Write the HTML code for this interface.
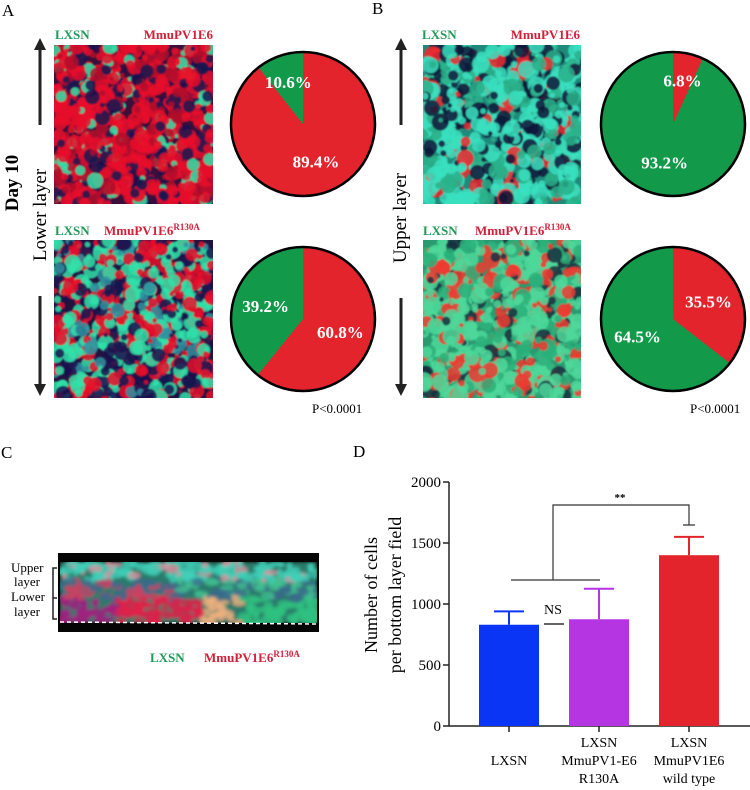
<!DOCTYPE html>
<html><head><meta charset="utf-8">
<style>
html,body{margin:0;padding:0;background:#fff;}
svg{display:block;font-family:"Liberation Serif",serif;}
</style></head>
<body>
<svg id="fig" width="750" height="790" viewBox="0 0 750 790" xmlns="http://www.w3.org/2000/svg">
<defs>
<filter id="blur1"><feGaussianBlur stdDeviation="0.8"/></filter>
<filter id="blur2"><feGaussianBlur stdDeviation="1.6"/></filter>
<marker id="ah" viewBox="0 0 10 10" refX="5" refY="5" markerWidth="4" markerHeight="4" orient="auto"><path d="M0,0 L10,5 L0,10 z" fill="#222"/></marker>
</defs>
<!-- panel letters -->
<text x="2" y="16" font-size="17">A</text>
<text x="372" y="14" font-size="17">B</text>
<text x="1" y="458" font-size="17">C</text>
<text x="353" y="457" font-size="17">D</text>

<!-- A side labels -->
<text transform="translate(18,183) rotate(-90)" text-anchor="middle" font-size="19" font-weight="bold">Day 10</text>
<text transform="translate(46,215) rotate(-90)" text-anchor="middle" font-size="19">Lower layer</text>
<line x1="40" y1="125" x2="40" y2="44" stroke="#222" stroke-width="3" marker-end="url(#ah)"/>
<line x1="40" y1="296" x2="40" y2="390" stroke="#222" stroke-width="3" marker-end="url(#ah)"/>
<text transform="translate(406,218) rotate(-90)" text-anchor="middle" font-size="19">Upper layer</text>
<line x1="401" y1="125" x2="401" y2="44" stroke="#222" stroke-width="3" marker-end="url(#ah)"/>
<line x1="401" y1="298" x2="401" y2="390" stroke="#222" stroke-width="3" marker-end="url(#ah)"/>

<g font-weight="bold" font-size="13">
<text x="55" y="39" fill="#1f9a5a">LXSN</text><text x="213" y="39" fill="#d0203a" text-anchor="end">MmuPV1E6</text>
<text x="55" y="235" fill="#1f9a5a">LXSN</text><text x="104" y="235" fill="#d0203a">MmuPV1E6<tspan font-size="9" dy="-5">R130A</tspan></text>
<text x="422" y="39" fill="#1f9a5a">LXSN</text><text x="580" y="39" fill="#d0203a" text-anchor="end">MmuPV1E6</text>
<text x="423" y="235" fill="#1f9a5a">LXSN</text><text x="475" y="235" fill="#d0203a">MmuPV1E6<tspan font-size="9" dy="-5">R130A</tspan></text>
<text x="150" y="662" fill="#1f9a5a">LXSN</text><text x="204" y="662" fill="#d0203a">MmuPV1E6<tspan font-size="9" dy="-5">R130A</tspan></text>
</g>
<text x="312" y="413" font-size="13">P&lt;0.0001</text>
<text x="690" y="413" font-size="13">P&lt;0.0001</text>

<g id="micro"></g>
<g id="pies"></g>

<!-- panel C labels -->
<g font-size="13">
<text x="11" y="572">Upper</text><text x="14" y="586">layer</text>
<text x="11" y="601">Lower</text><text x="14" y="616">layer</text>
</g>
<path d="M57,568 h-4 v30 h4 M57,598 h-4 v21 h4" fill="none" stroke="#222" stroke-width="1.5"/>

<g id="chart" font-size="15"></g>
</svg>
<script>
// ---------- Pie data ----------
const pieLabels = ["A-top","A-bottom","B-top","B-bottom"];
const pieRed = [89.4, 60.8, 6.8, 35.5];
const pieGreen = [10.6, 39.2, 93.2, 64.5];
// ---------- Bar chart data ----------
const barCategories = [["LXSN"],["LXSN","MmuPV1-E6","R130A"],["LXSN","MmuPV1E6","wild type"]];
const barValues = [830, 875, 1400];
const barErrors = [110, 250, 150];
const yTicks = [0, 500, 1000, 1500, 2000];

const NS="http://www.w3.org/2000/svg";
function mk(tag, attrs, parent){const e=document.createElementNS(NS,tag);for(const k in attrs)e.setAttribute(k,attrs[k]);parent.appendChild(e);return e;}

// microscopy textures (decorative)
let seed=7;function rnd(){seed=(seed*16807)%2147483647;return seed/2147483647;}
const micro=document.getElementById('micro');
function field(x,y,w,h,bg,cols,n,rmax){
  const g=mk('g',{},micro);
  
  
  const cp='c'+Math.round(x)+'_'+Math.round(y);
  const clip=mk('clipPath',{id:cp},g);mk('rect',{x:x,y:y,width:w,height:h},clip);
  mk('rect',{x:x,y:y,width:w,height:h,fill:bg},g);
  const inner=mk('g',{'clip-path':'url(#'+cp+')',filter:'url(#blur1)'},g);
  for(let i=0;i<n;i++){
    let r=rnd(),c=cols[cols.length-1][0];let acc=0;
    for(const [col,p] of cols){acc+=p;if(r<acc){c=col;break;}}
    mk('circle',{cx:x+rnd()*w,cy:y+rnd()*h,r:2+rnd()*rmax,fill:c,opacity:0.85},inner);
  }
}
field(54,45,159,159,'#3a0f3a',[['#e8122a',0.55],['#b0102c',0.2],['#1a1350',0.15],['#30e0a8',0.10]],900,6);
field(54,240,159,158,'#24123f',[['#e8122a',0.32],['#1a1350',0.25],['#30e0a8',0.33],['#3090a0',0.10]],900,6);
field(423,45,158,159,'#1f8a7a',[['#3ae0c0',0.45],['#2ab08a',0.2],['#10183a',0.25],['#ee2a30',0.10]],800,7);
field(423,240,158,158,'#2a9a70',[['#4ed89a',0.45],['#2bb07a',0.2],['#183040',0.12],['#ee3a30',0.23]],800,7);
// panel C strip
(function(){
  const g=mk('g',{},micro);
  
  
  mk('rect',{x:58,y:553,width:261,height:79,fill:'#050505'},g);
  const cp=mk('clipPath',{id:'cstrip'},g);mk('rect',{x:60,y:562,width:257,height:61},cp);
  const inn=mk('g',{'clip-path':'url(#cstrip)',filter:'url(#blur2)'},g);
  mk('rect',{x:60,y:562,width:257,height:61,fill:'#2a7a6a'},inn);
  for(let i=0;i<500;i++){
    const cx=60+rnd()*257,cy=562+rnd()*61;
    let c;
    if(cy<580) c=rnd()<0.8?'#40d0b8':'#e090a0';
    else if(cy<598) c=rnd()<0.5?'#3a6a8a':(cx<180?'#d04060':'#40c090');
    else c = cx<120?'#a02080':(cx<200?'#e0204a':(cx<240?'#f0b080':'#30c080'));
    mk('ellipse',{cx:cx,cy:cy,rx:2+rnd()*6,ry:2+rnd()*3,fill:c,opacity:0.8},inn);
  }
  mk('line',{x1:60,y1:622,x2:317,y2:624,stroke:'#fff','stroke-width':1.5,'stroke-dasharray':'4,3'},g);
})();

// pies
const pieG=document.getElementById('pies');
const pieCenters=[[303,124],[303,319],[673,124],[673,319]];
const R=72;
pieLabels.forEach((lab,i)=>{
  const [cx,cy]=pieCenters[i];
  const g=mk('g',{},pieG);
  
  
  mk('circle',{cx:cx,cy:cy,r:R,fill:'#13994a'},g);
  const tot=pieRed[i]+pieGreen[i];
  const a=pieRed[i]/tot*2*Math.PI;
  const ex=cx+R*Math.sin(a), ey=cy-R*Math.cos(a);
  const red=mk('path',{d:`M${cx},${cy} L${cx},${cy-R} A${R},${R} 0 ${a>Math.PI?1:0} 1 ${ex},${ey} Z`,fill:'#e4242c'},g);
  
  
  mk('circle',{cx:cx,cy:cy,r:R,fill:'none',stroke:'#000','stroke-width':2.5},g);
  const ar=a/2, ag=a+(2*Math.PI-a)/2;
  const smallR = pieRed[i]<15, smallG = pieGreen[i]<15;
  const rr=smallR?R*0.62:R*0.55, rg=smallG?R*0.62:R*0.55;
  const t1=mk('text',{x:cx+rr*Math.sin(ar),y:cy-rr*Math.cos(ar)+6,'text-anchor':'middle',fill:'#fff','font-weight':'bold','font-size':17},g);
  t1.textContent=pieRed[i].toFixed(1)+'%';
  const t2=mk('text',{x:cx+rg*Math.sin(ag),y:cy-rg*Math.cos(ag)+6,'text-anchor':'middle',fill:'#fff','font-weight':'bold','font-size':17},g);
  t2.textContent=pieGreen[i].toFixed(1)+'%';
});

// bar chart
const ch=document.getElementById('chart');
const x0=449, x1=750, y0=726, yTop=482, yMax=2000;
function Y(v){return y0-(v/yMax)*(y0-yTop);}
const barCenters=[509,599,689], bw=60;
const colors=['#0a35f5','#b635e2','#e4242c'];
function X(i){return barCenters[i];}
mk('line',{x1:x0,y1:yTop,x2:x0,y2:y0,stroke:'#222','stroke-width':1.5},ch);
mk('line',{x1:x0,y1:y0,x2:x1,y2:y0,stroke:'#222','stroke-width':1.5},ch);
yTicks.forEach(t=>{
  mk('line',{x1:x0-6,y1:Y(t),x2:x0,y2:Y(t),stroke:'#222','stroke-width':1.5},ch);
  const tx=mk('text',{x:x0-8,y:Y(t)+5,'text-anchor':'end'},ch);
  
  
  tx.textContent=t;
});
barValues.forEach((v,i)=>{
  const cx=X(i);
  const er=barErrors[i];
  mk('line',{x1:cx,y1:Y(v),x2:cx,y2:Y(v+er),stroke:colors[i],'stroke-width':2},ch);
  mk('line',{x1:cx-15,y1:Y(v+er),x2:cx+15,y2:Y(v+er),stroke:colors[i],'stroke-width':2},ch);
  const r=mk('rect',{x:cx-bw/2,y:Y(v),width:bw,height:y0-Y(v),fill:colors[i]},ch);
  
  
  mk('line',{x1:cx,y1:y0,x2:cx,y2:y0+6,stroke:'#222','stroke-width':1.5},ch);
  const lines=barCategories[i];
  const start = lines.length===1?765:747;
  lines.forEach((l,j)=>{
    const t=mk('text',{x:cx,y:start+j*18,'text-anchor':'middle','font-size':14},ch);
    
    
    t.textContent=l;
  });
});
// significance brackets
mk('path',{d:`M511,580 H600 M553,580 V505 H689 V525 M683,525 H695`,fill:'none',stroke:'#333','stroke-width':1.2},ch);
const ss=mk('text',{x:620,y:501,'text-anchor':'middle','font-size':11,'font-weight':'bold'},ch);ss.textContent='**';
const ns=mk('text',{x:553,y:614,'text-anchor':'middle','font-size':14},ch);ns.textContent='NS';
mk('line',{x1:544,y1:624,x2:564,y2:624,stroke:'#333','stroke-width':1.5},ch);
const yt=mk('text',{transform:'translate(377,595) rotate(-90)','text-anchor':'middle','font-size':18},ch);


const ts1=mk('tspan',{x:0,dy:0},yt);ts1.textContent='Number of cells';
const ts2=mk('tspan',{x:0,dy:24},yt);ts2.textContent='per bottom layer field';
</script>
</body></html>
